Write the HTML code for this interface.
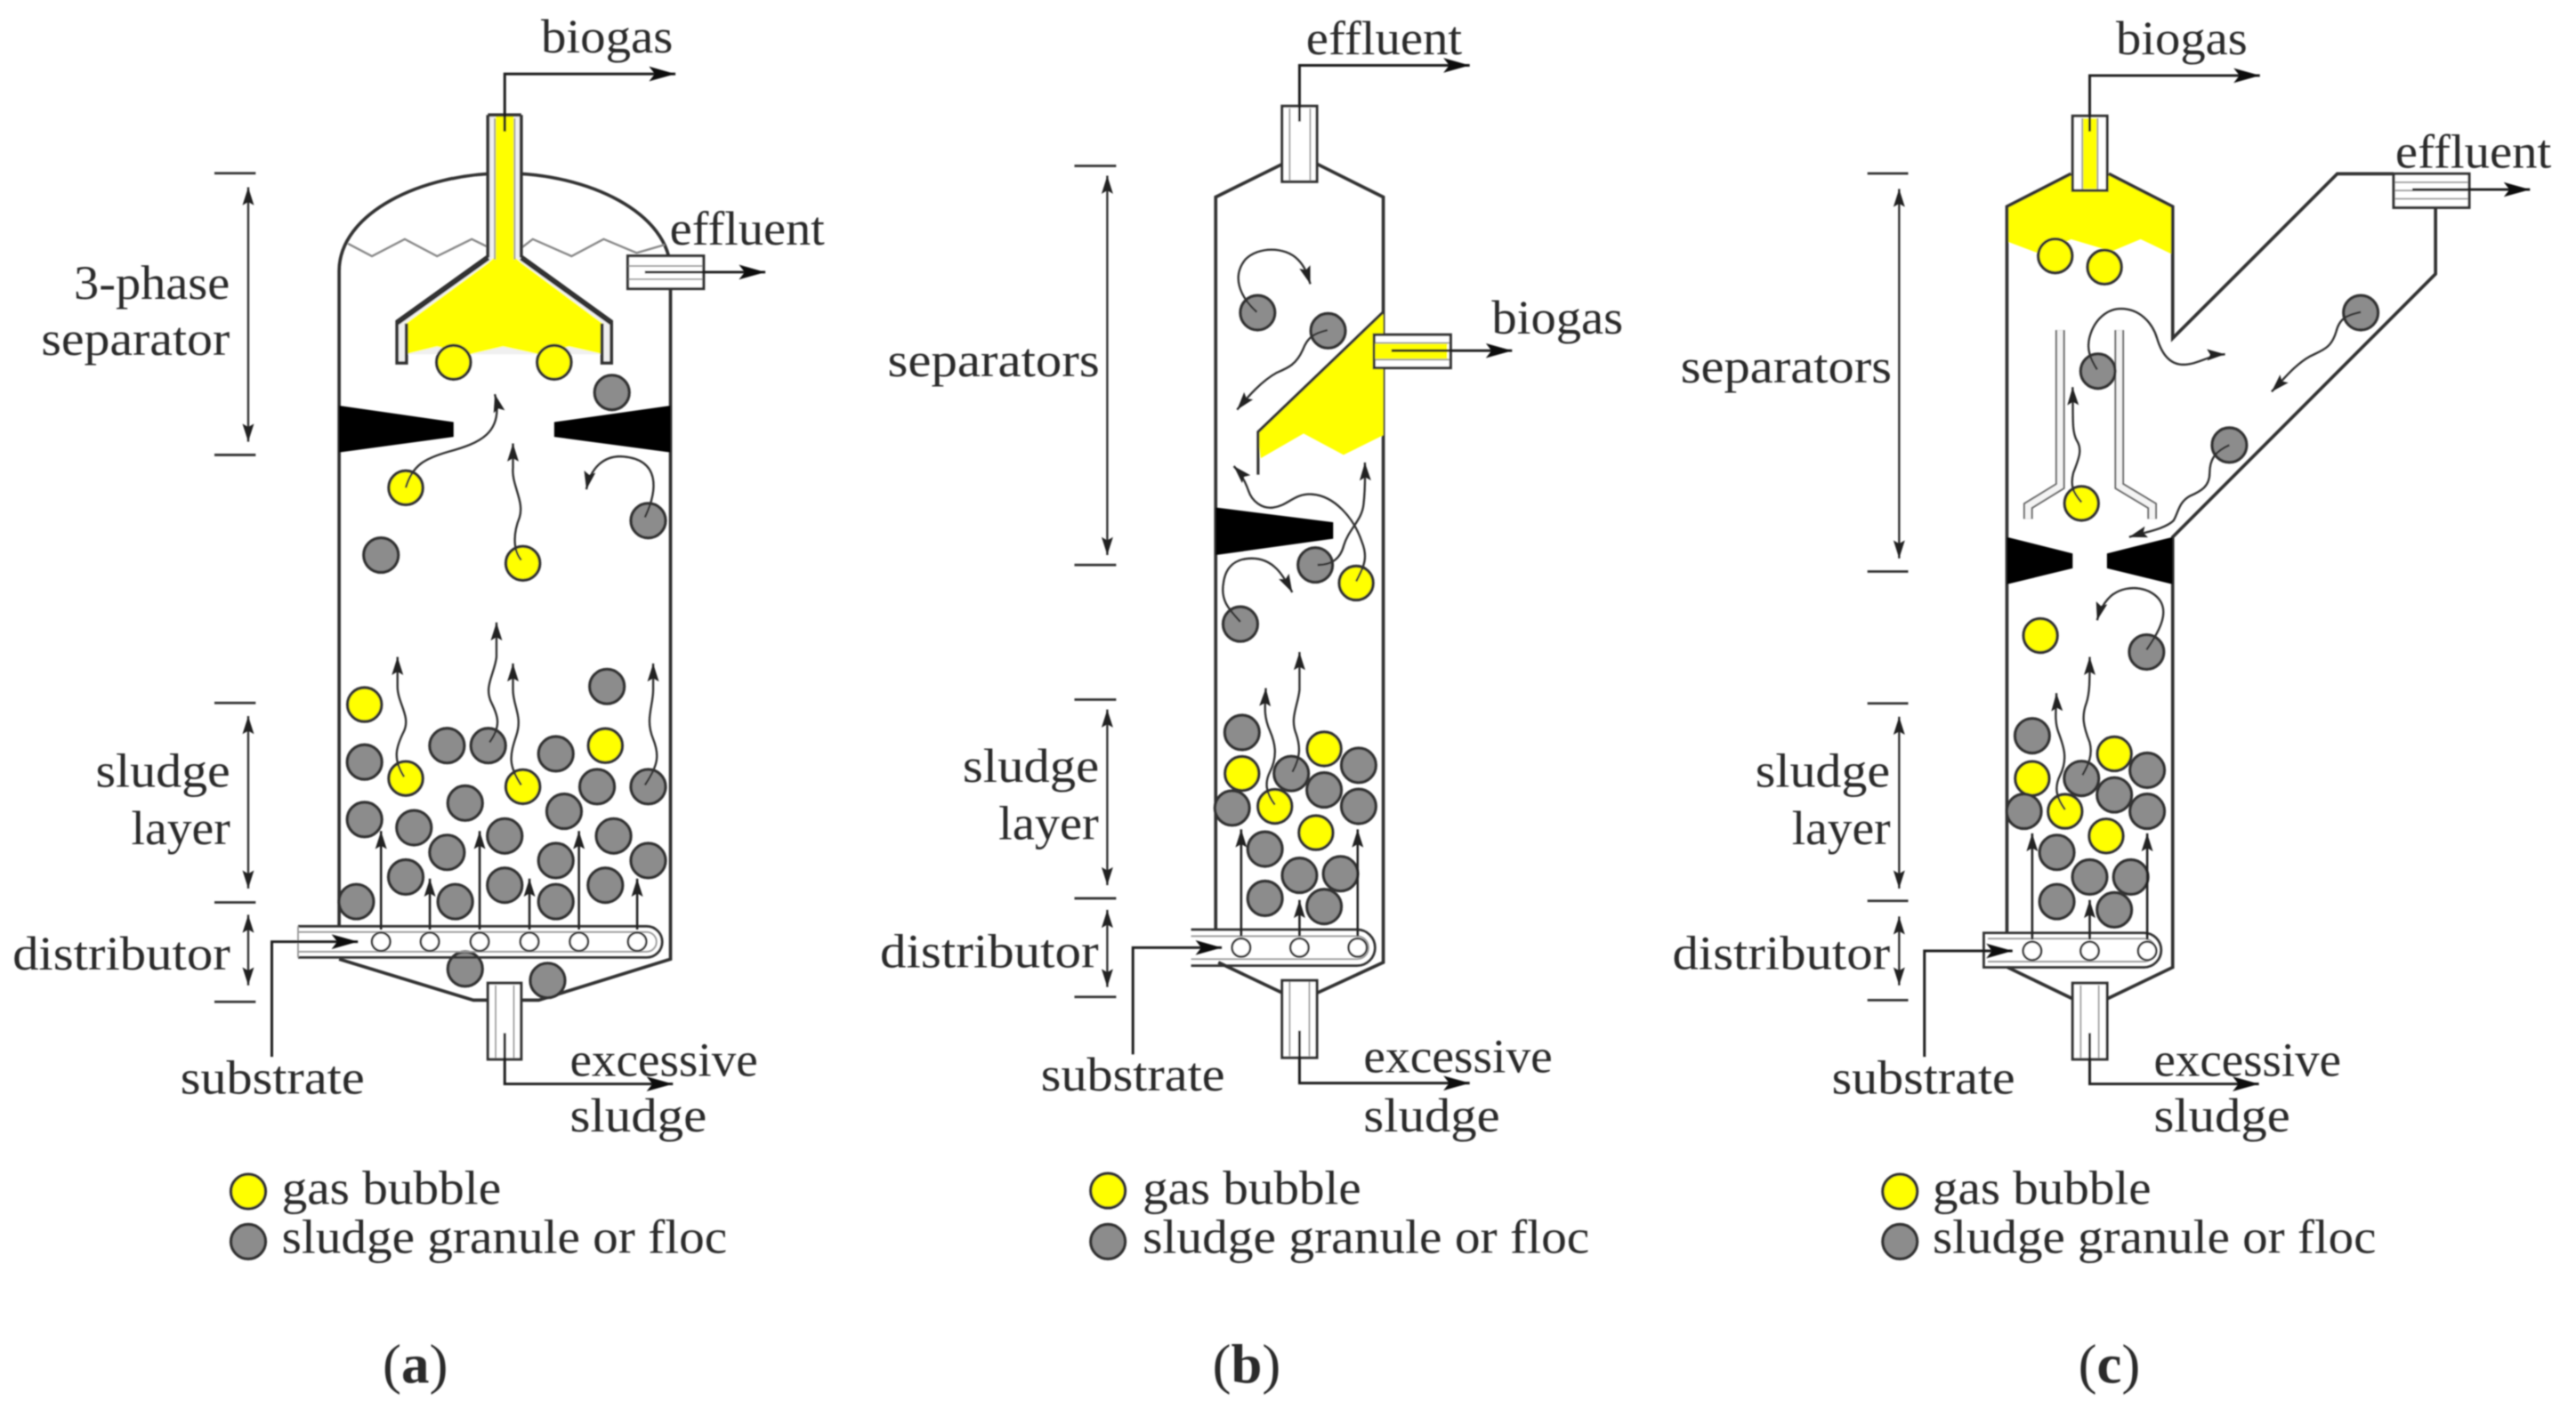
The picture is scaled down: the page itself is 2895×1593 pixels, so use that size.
<!DOCTYPE html>
<html><head><meta charset="utf-8"><title>Reactor diagrams</title>
<style>
html,body{margin:0;padding:0;background:#fff}
svg{display:block}
text{font-family:"Liberation Serif",serif;font-size:29px;fill:#2b2b2b}
.g{fill:#8c8c8c;stroke:#333;stroke-width:1.8}
.y{fill:#ff0;stroke:#333;stroke-width:1.8}
.w{fill:none;stroke:#2b2b2b;stroke-width:1.6}
.t{fill:none;stroke:#333;stroke-width:1.5}
.l{fill:none;stroke:#1c1c1c;stroke-width:1.6;marker-end:url(#L)}
.a{fill:none;stroke:#222;stroke-width:1.4;marker-end:url(#S)}
.v{fill:none;stroke:#333;stroke-width:1.3;marker-end:url(#S)}
.d{fill:none;stroke:#333;stroke-width:1.3;marker-end:url(#S);marker-start:url(#S)}
.k{fill:none;stroke:#333;stroke-width:2}
.i{fill:none;stroke:#999;stroke-width:1}
.z{fill:none;stroke:#888;stroke-width:1.3}
.h{fill:#fff;stroke:#333;stroke-width:1.3}
.b{fill:#fff;stroke:#333;stroke-width:1.7}
</style></head><body>
<svg xmlns="http://www.w3.org/2000/svg" width="2895" height="1593" viewBox="0 0 1568 862.8">
<defs>
<marker id="S" markerUnits="userSpaceOnUse" markerWidth="12" markerHeight="10" refX="11" refY="4.5" orient="auto-start-reverse"><path d="M0 1L11 4.5L0 8L2 4.5z" fill="#222"/></marker>
<marker id="L" markerUnits="userSpaceOnUse" markerWidth="17" markerHeight="11" refX="16" refY="5" orient="auto"><path d="M0 0.5L16 5L0 9.5L3.5 5z" fill="#111"/></marker>
<filter id="blur" filterUnits="userSpaceOnUse" x="0" y="0" width="1568" height="863"><feGaussianBlur stdDeviation="0.5"/></filter>
</defs>
<rect width="1568" height="863" fill="#fff"/>
<g filter="url(#blur)">

<!-- PANEL A -->
<g transform="scale(1.004,1)">
<path class="k" d="M205.6 564V165C205.6 130 255 105.5 306 105.5C357 105.5 406.5 130 406.5 165V584L326.6 609H316M296 609H287L205.6 584"/>
<polyline class="z" points="211,148.4 225.5,156 245.4,145.6 265,156 286,145.6 296,150.5"/>
<polyline class="z" points="316,151 323,145.6 346.5,156 366,145.6 386,154 403,149"/>
<path fill="#f0f0f0" d="M295.8 70H316V156L370.7 195.6V221H364.7V215.7H246.4V221H240.7V195.6L295.8 156z"/>
<path fill="#ff0" d="M300.5 70H311.5V156L316 160L365.5 197V215.7L345 211L326.6 215.7L305 211L285 215.7L265 211L246 215.7V197L296 160L300.5 156z"/>
<path class="k" d="M295.8 70V156L240.7 195.6V221H246.4V197"/>
<path class="k" d="M316 70V156L370.7 195.6V221H365V197"/>
<path class="k" style="stroke-width:3" d="M296 157L241 196.5M316 157L370.5 196.5"/>
<path class="k" d="M295.8 70H316"/>
<path class="i" d="M300 72V158M312 72V158"/>
<polygon fill="#000" points="205.6,247 275,257 275,266 205.6,275.5"/>
<polygon fill="#000" points="406.5,247 336,257 336,266 406.5,275.5"/>
<rect class="b" x="380.6" y="155.8" width="46" height="20"/>
<path class="i" d="M381 162H426M381 170H426"/>
<path class="l" d="M391 165.7H464"/>
<rect class="b" x="295.8" y="598.6" width="20.2" height="46.4"/>
<path class="i" d="M300.5 600V644M311.5 600V644"/>
<path class="l" d="M306 629V660H408"/>
<path class="l" d="M306 80V45H409.5"/>
<g>
<circle class="y" cx="275" cy="220.6" r="10.3"/><circle class="y" cx="336" cy="220.6" r="10.3"/>
<circle class="g" cx="371" cy="239" r="10.5"/><circle class="y" cx="246" cy="297" r="10.3"/><circle class="g" cx="393" cy="317" r="10.5"/><circle class="g" cx="231" cy="338" r="10.5"/><circle class="y" cx="317" cy="343" r="10.3"/>
<circle class="y" cx="221" cy="429" r="10.3"/><circle class="g" cx="368" cy="418" r="10.5"/><circle class="g" cx="221" cy="464" r="10.5"/><circle class="y" cx="246" cy="474" r="10.3"/><circle class="g" cx="271" cy="454" r="10.5"/><circle class="g" cx="296" cy="454" r="10.5"/><circle class="g" cx="337" cy="459" r="10.5"/><circle class="y" cx="367" cy="454" r="10.3"/><circle class="g" cx="393" cy="479" r="10.5"/><circle class="y" cx="317" cy="479" r="10.3"/><circle class="g" cx="362" cy="479" r="10.5"/><circle class="g" cx="282" cy="489" r="10.5"/><circle class="g" cx="342" cy="494" r="10.5"/><circle class="g" cx="221" cy="499" r="10.5"/><circle class="g" cx="251" cy="504" r="10.5"/><circle class="g" cx="271" cy="519" r="10.5"/><circle class="g" cx="306" cy="509" r="10.5"/><circle class="g" cx="372" cy="509" r="10.5"/><circle class="g" cx="393" cy="524" r="10.5"/><circle class="g" cx="246" cy="534" r="10.5"/><circle class="g" cx="337" cy="524" r="10.5"/><circle class="g" cx="276" cy="549" r="10.5"/><circle class="g" cx="306" cy="539" r="10.5"/><circle class="g" cx="337" cy="549" r="10.5"/><circle class="g" cx="367" cy="539" r="10.5"/><circle class="g" cx="216" cy="549" r="10.5"/><circle class="g" cx="282" cy="590" r="10.5"/><circle class="g" cx="332" cy="597" r="10.5"/>
</g>
<path class="t" d="M180.7 564H392A9.5 9.5 0 0 1 392 583H180.7"/>
<path class="i" d="M180.7 567.5H392A6 6 0 0 1 392 579.5H180.7M180.7 564V583"/>
<path class="a" d="M231 566V506"/><path class="a" d="M260.6 566V535"/><path class="a" d="M290.8 566V506"/><path class="a" d="M321 566V535"/><path class="a" d="M351 566V506"/><path class="a" d="M386.3 566V535"/>
<g><circle class="h" cx="231" cy="573.4" r="5.5"/><circle class="h" cx="260.6" cy="573.4" r="5.5"/><circle class="h" cx="290.8" cy="573.4" r="5.5"/><circle class="h" cx="321" cy="573.4" r="5.5"/><circle class="h" cx="351" cy="573.4" r="5.5"/><circle class="h" cx="386.3" cy="573.4" r="5.5"/></g>
<path class="l" d="M164.8 643.5V573.4H217"/>
<path class="v" d="M246 297C250 283 258 279 272 275C290 270 306 264 300 240"/>
<path class="v" d="M316 341C311 335 311 325 315 315C318 305 310 295 311 285L311 270"/>
<path class="v" d="M391 315C399 298 400 280 378 278C366 277 358 285 355.5 298"/>
<path class="v" d="M245 473C238 462 240 455 245 445C249 436 241 428 241 418L241 400"/>
<path class="v" d="M296.8 452C304 442 302 436 298 428C293 418 300 410 301 400L301 379"/>
<path class="v" d="M316 478C308 466 309 460 313 448C317 436 311 430 311 420L311 404"/>
<path class="v" d="M391 478C399 466 400 460 396 450C391 438 396 430 396 420L396 404"/>
<path class="k" d="M130 105.5H155M130 277H155M130 428H155M130 549.5H155M130 610H155" style="stroke-width:1.5"/>
<path class="d" d="M150.5 114V269"/><path class="d" d="M150.5 436V541"/><path class="d" d="M150.5 557V600"/>
<text x="328" y="32" textLength="80" lengthAdjust="spacingAndGlyphs">biogas</text>
<text x="406" y="149" textLength="94" lengthAdjust="spacingAndGlyphs">effluent</text>
<text x="44.8" y="182" textLength="94.5" lengthAdjust="spacingAndGlyphs">3-phase</text>
<text x="25" y="216" textLength="114.3" lengthAdjust="spacingAndGlyphs">separator</text>
<text x="58" y="479" textLength="81.6" lengthAdjust="spacingAndGlyphs">sludge</text>
<text x="79.6" y="514" textLength="60" lengthAdjust="spacingAndGlyphs">layer</text>
<text x="7.6" y="590.5" textLength="132" lengthAdjust="spacingAndGlyphs">distributor</text>
<text x="109.4" y="666" textLength="111.6" lengthAdjust="spacingAndGlyphs">substrate</text>
<text x="345.5" y="655" textLength="114" lengthAdjust="spacingAndGlyphs">excessive</text>
<text x="345.5" y="689" textLength="83" lengthAdjust="spacingAndGlyphs">sludge</text>
<circle class="y" cx="150.5" cy="725.5" r="10.5"/><circle class="g" cx="150.5" cy="756" r="10.5"/>
<text x="170.8" y="733" textLength="133" lengthAdjust="spacingAndGlyphs">gas bubble</text>
<text x="170.8" y="763" textLength="270" lengthAdjust="spacingAndGlyphs">sludge granule or floc</text>
<text x="232" y="842" style="font-size:34px">(<tspan font-weight="bold">a</tspan>)</text>
</g>

<!-- PANEL B -->
<path class="k" d="M740 566V120L780.4 100M802 100L842 120V586L802 604.5M780.4 604.5L741.6 586"/>
<path fill="#ff0" d="M842 190L765.8 263L767.4 279L793.5 264L817.8 277L842 265z"/>
<path class="k" d="M842 190L765.8 263V289" style="stroke-width:1.7"/>
<polygon fill="#000" points="740,309 811.5,318 811.5,328 740,338"/>
<rect class="b" x="780.4" y="64.6" width="21.2" height="46"/>
<path class="i" d="M785 66V110M797.5 66V110"/>
<path class="l" d="M791 74V39.8H894.6"/>
<rect class="b" x="836.4" y="203.8" width="46.6" height="20.2"/>
<rect x="837" y="208.8" width="44" height="10.2" fill="#ff0"/>
<path class="i" d="M837 208.8H882M837 219H882"/>
<path class="l" d="M847 213.5H920.4"/>
<rect class="b" x="780.4" y="597" width="21.2" height="47"/>
<path class="i" d="M785 598V643M797 598V643"/>
<path class="l" d="M791 627.6V659.5H894.6"/>
<g>
<circle class="g" cx="765.5" cy="190.4" r="10.5"/><circle class="g" cx="808.4" cy="201.4" r="10.5"/><circle class="g" cx="800.6" cy="344" r="10.5"/><circle class="y" cx="825.5" cy="355" r="10.3"/><circle class="g" cx="755" cy="380" r="10.5"/>
<circle class="g" cx="756" cy="446" r="10.5"/><circle class="y" cx="806" cy="456" r="10.3"/><circle class="y" cx="756" cy="471" r="10.3"/><circle class="g" cx="786" cy="471" r="10.5"/><circle class="g" cx="827" cy="466" r="10.5"/><circle class="g" cx="806" cy="481" r="10.5"/><circle class="g" cx="750" cy="492" r="10.5"/><circle class="y" cx="776" cy="491" r="10.3"/><circle class="g" cx="827" cy="491" r="10.5"/><circle class="y" cx="801" cy="507" r="10.3"/><circle class="g" cx="770" cy="517" r="10.5"/><circle class="g" cx="791" cy="533" r="10.5"/><circle class="g" cx="816" cy="532" r="10.5"/><circle class="g" cx="770" cy="547" r="10.5"/><circle class="g" cx="806" cy="552" r="10.5"/>
</g>
<path class="t" d="M725 566H826A11 11 0 0 1 826 588H725"/>
<path class="i" d="M725 570H826A7 7 0 0 1 826 584H725"/>
<path class="a" d="M755.5 570V505"/><path class="a" d="M791 570V548"/><path class="a" d="M826.4 570V505"/>
<g><circle class="h" cx="755.5" cy="577" r="5.5"/><circle class="h" cx="791" cy="577" r="5.5"/><circle class="h" cx="826.4" cy="577" r="5.5"/></g>
<path class="l" d="M689.6 642V577H743.7"/>
<path class="v" d="M765 190C754 180 750 168 758 158C766 150 782 150 790 158C795 163 796 168 797.6 173"/>
<path class="v" d="M808 201C800 203 796 205 793 213C789 222 784 224 777 227C768 232 760 241 753 249.5"/>
<path class="v" d="M825.5 354C830 345 833 340 829 330C824 315 812 302 799 301C788 300 784 308 775 309C768 310 762 305 760 299C758 293 755 288 751 283.8"/>
<path class="v" d="M802 344C811 344 816 340 818 332C821 322 829 317 830 307C831 298 831 290 830.8 281.6"/>
<path class="v" d="M755 378.6C747 370 743 365 744.7 355C746 345 752 340 762 340C775 340 781 350 786.6 360.7"/>
<path class="v" d="M776 490C770 482 770 476 773 470C778 460 776 452 773 445C769 436 770 430 770.5 419"/>
<path class="v" d="M786.7 470C791 462 792 456 789 447C785 437 790 430 791 420L791 397"/>
<path class="k" d="M654 101H679.4M654 344H679.4M654 426H679.4M654 547H679.4M654 607H679.4" style="stroke-width:1.5"/>
<path class="d" d="M674 107V338"/><path class="d" d="M674 432V539"/><path class="d" d="M674 554V601"/>
<text x="795" y="33" textLength="95" lengthAdjust="spacingAndGlyphs">effluent</text>
<text x="908" y="203" textLength="80" lengthAdjust="spacingAndGlyphs">biogas</text>
<text x="540.3" y="229" textLength="129" lengthAdjust="spacingAndGlyphs">separators</text>
<text x="586" y="476" textLength="83" lengthAdjust="spacingAndGlyphs">sludge</text>
<text x="607.8" y="511" textLength="61" lengthAdjust="spacingAndGlyphs">layer</text>
<text x="535.7" y="589" textLength="133" lengthAdjust="spacingAndGlyphs">distributor</text>
<text x="633.6" y="664" textLength="112" lengthAdjust="spacingAndGlyphs">substrate</text>
<text x="830" y="653" textLength="115" lengthAdjust="spacingAndGlyphs">excessive</text>
<text x="830" y="689" textLength="83" lengthAdjust="spacingAndGlyphs">sludge</text>
<circle class="y" cx="674.4" cy="725" r="10.5"/><circle class="g" cx="674.4" cy="756" r="10.5"/>
<text x="695.5" y="733" textLength="133" lengthAdjust="spacingAndGlyphs">gas bubble</text>
<text x="695.5" y="763" textLength="272" lengthAdjust="spacingAndGlyphs">sludge granule or floc</text>
<text x="738" y="842" style="font-size:34px">(<tspan font-weight="bold">b</tspan>)</text>

<!-- PANEL C -->
<path fill="#ff0" d="M1221.6 125.8L1260.6 105.8H1283.6L1322.5 125.8V155L1303 145.6L1285.4 153L1260.6 145.6L1243 155L1221.6 147z"/>
<path class="k" d="M1221.6 568V125.8L1260.6 105.8M1283.6 105.8L1322.5 125.8V206L1422.7 105.8H1457"/>
<path class="k" d="M1482.5 126.4V166.8L1322.5 327V589L1283 608M1261.3 608L1222 589"/>
<rect class="b" x="1261.6" y="70.6" width="21" height="45.4"/>
<rect x="1267.7" y="72" width="9" height="43" fill="#ff0"/>
<path class="i" d="M1267.5 72V115M1276.8 72V115"/>
<path class="l" d="M1272 80V46H1375.6"/>
<rect class="b" x="1457" y="105.8" width="46" height="20.6"/>
<path class="i" d="M1458 111H1502M1458 116H1502M1458 121H1502"/>
<path class="l" d="M1468.4 115.4H1540"/>
<path d="M1254 201V296L1234.5 308V316M1290 201V296L1310 308V316" fill="none" stroke="#666" stroke-width="5.8"/>
<path d="M1254 201V296L1234.5 308V316M1290 201V296L1310 308V316" fill="none" stroke="#f4f4f4" stroke-width="3.6"/>
<polygon fill="#000" points="1221.6,327 1261.6,337 1261.6,346 1221.6,355.8"/>
<polygon fill="#000" points="1282.5,337 1322.5,327 1322.5,355.8 1282.5,346"/>
<rect class="b" x="1261.6" y="598.6" width="21" height="46.4"/>
<path class="i" d="M1266.5 600V644M1277.5 600V644"/>
<path class="l" d="M1272 629V660H1375"/>
<g>
<circle class="y" cx="1251" cy="155.8" r="10.3"/><circle class="y" cx="1281" cy="162.6" r="10.3"/>
<circle class="g" cx="1437" cy="190.4" r="10.5"/><circle class="g" cx="1277" cy="226" r="10.5"/><circle class="g" cx="1357" cy="271" r="10.5"/><circle class="y" cx="1267" cy="306.5" r="10.3"/><circle class="y" cx="1242" cy="387" r="10.3"/><circle class="g" cx="1306.6" cy="397" r="10.5"/>
<circle class="g" cx="1237" cy="448" r="10.5"/><circle class="y" cx="1287" cy="459" r="10.3"/><circle class="y" cx="1237" cy="474" r="10.3"/><circle class="g" cx="1267" cy="474" r="10.5"/><circle class="g" cx="1307" cy="469" r="10.5"/><circle class="g" cx="1287" cy="484" r="10.5"/><circle class="g" cx="1232" cy="494" r="10.5"/><circle class="y" cx="1257" cy="494" r="10.3"/><circle class="g" cx="1307" cy="494" r="10.5"/><circle class="y" cx="1282" cy="509" r="10.3"/><circle class="g" cx="1252" cy="519" r="10.5"/><circle class="g" cx="1272" cy="534" r="10.5"/><circle class="g" cx="1297" cy="534" r="10.5"/><circle class="g" cx="1252" cy="549" r="10.5"/><circle class="g" cx="1287" cy="554" r="10.5"/>
</g>
<path class="t" d="M1207.5 568H1305A10.5 10.5 0 0 1 1305 589H1207.5Z"/>
<path class="i" d="M1210 571.5H1305A7 7 0 0 1 1305 585.5H1210"/>
<path class="a" d="M1237 572V507.4"/><path class="a" d="M1272 572V548"/><path class="a" d="M1307 572V507.4"/>
<g><circle class="h" cx="1237" cy="579" r="5.5"/><circle class="h" cx="1272" cy="579" r="5.5"/><circle class="h" cx="1307" cy="579" r="5.5"/></g>
<path class="l" d="M1171.4 643.5V579H1225"/>
<path class="v" d="M1276.5 225C1272 218 1270 212 1272 205C1275 194 1283 188 1291 188C1302 188 1310 196 1313 206C1316 216 1321 222 1329 222C1338 222 1345 216 1354.4 215.7"/>
<path class="v" d="M1437 190C1428 192 1424 194 1422 202C1419 212 1414 213 1406 217C1397 222 1390 231 1382.7 238.5"/>
<path class="v" d="M1357 271C1348 275 1345 280 1345 288C1345 296 1340 299 1333 302C1326 306 1326 312 1323 317C1318 322 1306 324 1296 327"/>
<path class="v" d="M1267 305.8C1262 300 1260 296 1262 288C1265 280 1268 274 1264 268C1261 262 1262 255 1261.6 235.7"/>
<path class="v" d="M1306.6 395.6C1314 385 1320 374 1315 366C1310 358 1296 355 1286 362C1281 366 1278 372 1276.5 377.7"/>
<path class="v" d="M1257 493C1252 486 1250 480 1254 472C1259 462 1256 454 1253 446C1250 438 1252 430 1251.7 422"/>
<path class="v" d="M1267.6 472C1271 466 1274 460 1272 452C1268 442 1267 436 1270 428C1272 422 1272 415 1272 400"/>
<path class="k" d="M1136.7 105.6H1161.5M1136.7 348H1161.5M1136.7 428.3H1161.5M1136.7 548.5H1161.5M1136.7 609H1161.5" style="stroke-width:1.5"/>
<path class="d" d="M1156 115V340"/><path class="d" d="M1156 436.4V541"/><path class="d" d="M1156 558V600"/>
<text x="1288" y="33" textLength="80" lengthAdjust="spacingAndGlyphs">biogas</text>
<text x="1458" y="102" textLength="95" lengthAdjust="spacingAndGlyphs">effluent</text>
<text x="1023" y="233" textLength="128.5" lengthAdjust="spacingAndGlyphs">separators</text>
<text x="1068.5" y="479" textLength="82" lengthAdjust="spacingAndGlyphs">sludge</text>
<text x="1090.7" y="514" textLength="60" lengthAdjust="spacingAndGlyphs">layer</text>
<text x="1018" y="590" textLength="132.5" lengthAdjust="spacingAndGlyphs">distributor</text>
<text x="1115" y="666" textLength="111.6" lengthAdjust="spacingAndGlyphs">substrate</text>
<text x="1311" y="655" textLength="114" lengthAdjust="spacingAndGlyphs">excessive</text>
<text x="1311" y="689" textLength="83" lengthAdjust="spacingAndGlyphs">sludge</text>
<circle class="y" cx="1156.5" cy="725.5" r="10.5"/><circle class="g" cx="1156.5" cy="756" r="10.5"/>
<text x="1176.4" y="733" textLength="133" lengthAdjust="spacingAndGlyphs">gas bubble</text>
<text x="1176.4" y="763" textLength="270" lengthAdjust="spacingAndGlyphs">sludge granule or floc</text>
<text x="1265" y="842" style="font-size:34px">(<tspan font-weight="bold">c</tspan>)</text>
</g>
</svg>
</body></html>
